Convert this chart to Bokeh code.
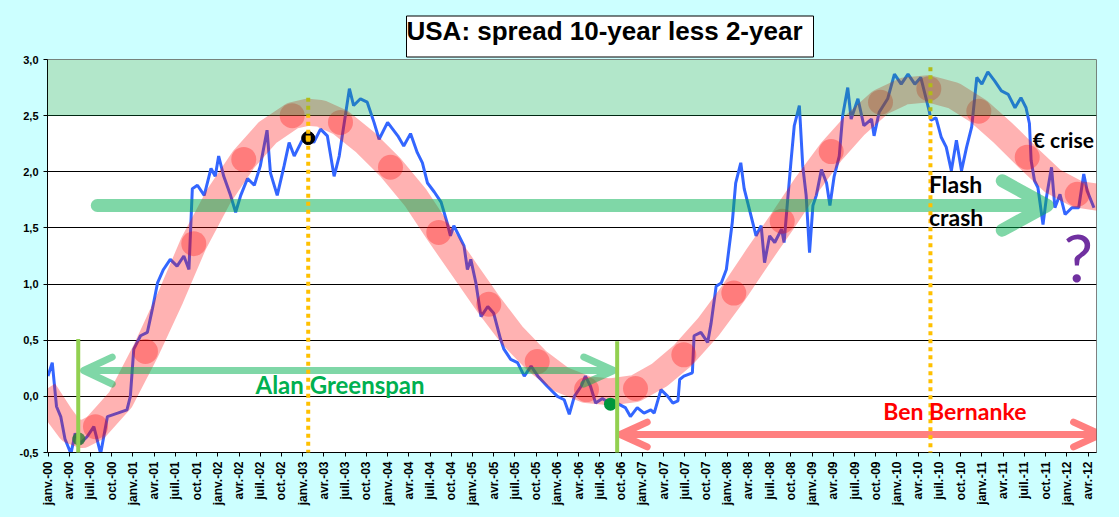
import math
from bokeh.plotting import figure
from bokeh.models import Range1d, FixedTicker, Label, BoxAnnotation, Arrow, Title
from bokeh.embed import file_html
from bokeh.resources import INLINE

# ---------------- data (decimal years) ----------------
spread_t = [2000.00, 2000.05, 2000.10, 2000.15, 2000.20, 2000.27, 2000.32, 2000.38, 2000.46, 2000.54,
            2000.62, 2000.70, 2000.82, 2000.93, 2000.97, 2001.01, 2001.09, 2001.17, 2001.23, 2001.29,
            2001.36, 2001.44, 2001.52, 2001.60, 2001.66, 2001.70, 2001.76, 2001.84, 2001.92, 2001.97,
            2002.01, 2002.07, 2002.15, 2002.21, 2002.27, 2002.35, 2002.43, 2002.50, 2002.58, 2002.62,
            2002.70, 2002.78, 2002.84, 2002.90, 2002.98, 2003.05, 2003.13, 2003.21, 2003.29, 2003.37,
            2003.43, 2003.49, 2003.55, 2003.60, 2003.68, 2003.76, 2003.84, 2003.90, 2004.00, 2004.12,
            2004.19, 2004.27, 2004.35, 2004.41, 2004.47, 2004.55, 2004.63, 2004.70, 2004.74, 2004.78,
            2004.84, 2004.90, 2004.94, 2004.98, 2005.04, 2005.10, 2005.18, 2005.25, 2005.33, 2005.37,
            2005.45, 2005.53, 2005.61, 2005.69, 2005.77, 2005.88, 2006.00, 2006.08, 2006.14, 2006.20,
            2006.28, 2006.33, 2006.39, 2006.45, 2006.53, 2006.61, 2006.70, 2006.80, 2006.86, 2006.94,
            2007.02, 2007.10, 2007.14, 2007.22, 2007.30, 2007.36, 2007.42, 2007.44, 2007.49, 2007.59,
            2007.61, 2007.69, 2007.77, 2007.81, 2007.87, 2007.93, 2007.99, 2008.02, 2008.06, 2008.10,
            2008.16, 2008.20, 2008.24, 2008.30, 2008.34, 2008.40, 2008.44, 2008.50, 2008.56, 2008.64,
            2008.67, 2008.71, 2008.75, 2008.79, 2008.85, 2008.89, 2008.93, 2008.97, 2009.01, 2009.05,
            2009.11, 2009.17, 2009.21, 2009.26, 2009.32, 2009.36, 2009.42, 2009.46, 2009.54, 2009.61,
            2009.70, 2009.73, 2009.79, 2009.89, 2009.97, 2010.05, 2010.13, 2010.21, 2010.28, 2010.34,
            2010.38, 2010.40, 2010.46, 2010.52, 2010.58, 2010.64, 2010.70, 2010.76, 2010.82, 2010.88,
            2010.94, 2011.00, 2011.07, 2011.15, 2011.23, 2011.31, 2011.39, 2011.46, 2011.52, 2011.56,
            2011.58, 2011.62, 2011.66, 2011.72, 2011.76, 2011.82, 2011.86, 2011.92, 2011.98, 2012.06,
            2012.14, 2012.20, 2012.24, 2012.32]
spread_v = [0.18, 0.30, -0.09, -0.18, -0.38, -0.51, -0.33, -0.42, -0.36, -0.27,
            -0.51, -0.18, -0.15, -0.12, 0.00, 0.42, 0.54, 0.57, 0.78, 1.01,
            1.13, 1.22, 1.16, 1.25, 1.13, 1.85, 1.88, 1.79, 2.03, 1.96,
            2.14, 1.96, 1.79, 1.64, 1.79, 1.94, 1.88, 2.05, 2.37, 1.99,
            1.79, 2.05, 2.26, 2.14, 2.26, 2.35, 2.26, 2.38, 2.32, 1.96,
            2.14, 2.44, 2.74, 2.59, 2.65, 2.62, 2.44, 2.29, 2.44, 2.32,
            2.23, 2.34, 2.17, 2.08, 1.90, 1.82, 1.73, 1.55, 1.43, 1.52,
            1.43, 1.34, 1.13, 1.22, 1.01, 0.71, 0.80, 0.74, 0.51, 0.42,
            0.33, 0.30, 0.18, 0.27, 0.18, 0.09, 0.00, -0.03, -0.16, 0.00,
            0.09, 0.18, 0.09, -0.06, -0.02, -0.06, -0.06, -0.10, -0.18, -0.10,
            -0.15, -0.12, -0.15, 0.06, 0.00, -0.06, -0.04, 0.15, 0.18, 0.21,
            0.54, 0.57, 0.48, 0.65, 0.98, 1.01, 1.13, 1.31, 1.55, 1.90,
            2.08, 1.85, 1.73, 1.55, 1.43, 1.52, 1.19, 1.43, 1.37, 1.49,
            1.37, 1.73, 2.08, 2.41, 2.59, 2.05, 1.79, 1.28, 1.70, 1.79,
            2.02, 1.90, 1.70, 1.96, 2.14, 2.50, 2.75, 2.47, 2.65, 2.41,
            2.47, 2.32, 2.53, 2.65, 2.87, 2.78, 2.87, 2.78, 2.84, 2.66,
            2.54, 2.46, 2.48, 2.31, 2.22, 2.01, 2.28, 2.01, 2.22, 2.40,
            2.84, 2.78, 2.89, 2.81, 2.72, 2.69, 2.57, 2.66, 2.57, 2.43,
            2.10, 1.92, 1.86, 1.53, 1.77, 2.04, 1.68, 1.80, 1.62, 1.68,
            1.68, 1.98, 1.83, 1.68]

cycle_t = [1999.95, 2000.147, 2000.265, 2000.406, 2000.559, 2000.854, 2001.148, 2001.443, 2001.714,
           2002.009, 2002.303, 2002.586, 2002.880, 2003.057, 2003.210, 2003.445, 2003.740, 2004.034,
           2004.329, 2004.600, 2004.894, 2005.189, 2005.471, 2005.766, 2006.048, 2006.343, 2006.625,
           2006.920, 2007.203, 2007.485, 2007.780, 2008.074, 2008.357, 2008.651, 2008.934, 2009.228,
           2009.511, 2009.806, 2010.088, 2010.371, 2010.665, 2010.960, 2011.243, 2011.537, 2011.831,
           2012.126, 2012.40]
cycle_v = [0.05, -0.18, -0.30, -0.34, -0.28, -0.03, 0.40, 0.88, 1.36,
           1.78, 2.11, 2.35, 2.50, 2.53, 2.52, 2.44, 2.26, 2.04,
           1.77, 1.46, 1.14, 0.82, 0.54, 0.31, 0.15, 0.06, 0.04,
           0.07, 0.19, 0.37, 0.62, 0.92, 1.24, 1.56, 1.88, 2.18,
           2.42, 2.62, 2.72, 2.74, 2.68, 2.54, 2.35, 2.13, 1.92,
           1.80, 1.77]

dot_t = [2000.559, 2001.148, 2001.717, 2002.306, 2002.876, 2003.445, 2004.034, 2004.603, 2005.192,
         2005.762, 2006.343, 2006.920, 2007.489, 2008.078, 2008.648, 2009.225, 2009.806, 2010.375,
         2010.964, 2011.534, 2012.123]
dot_v = [-0.27, 0.40, 1.36, 2.11, 2.50, 2.44, 2.04, 1.46, 0.82,
         0.31, 0.06, 0.07, 0.37, 0.92, 1.56, 2.18, 2.62, 2.74,
         2.54, 2.13, 1.80]

quarter_names = ["janv.", "avr.", "juil.", "oct."]
years = list(range(2000, 2013))
y_ticks = [-0.5, 0.0, 0.5, 1.0, 1.5, 2.0, 2.5, 3.0]
y_tick_labels = ["-0,5", "0,0", "0,5", "1,0", "1,5", "2,0", "2,5", "3,0"]

x_ticks, x_tick_labels = [], []
for yr in years:
    for q, name in enumerate(quarter_names):
        t = yr + q * 0.25
        if t <= 2012.3:
            x_ticks.append(t)
            x_tick_labels.append(f"{name}-{yr % 100:02d}")

# ---------------- figure ----------------
p = figure(width=1119, height=517, output_backend="svg", toolbar_location=None,
           x_range=Range1d(1999.994, 2012.35), y_range=Range1d(-0.5, 3.0),
           min_border_left=47, min_border_right=23, min_border_top=59, min_border_bottom=65)
p.border_fill_color = "#ccffff"
p.background_fill_color = "white"
p.outline_line_color = "#808080"
p.xgrid.visible = False
p.ygrid.ticker = FixedTicker(ticks=[0.0, 0.5, 1.0, 1.5, 2.0, 2.5])
p.ygrid.grid_line_color = "black"
p.ygrid.grid_line_width = 1

p.yaxis.ticker = FixedTicker(ticks=y_ticks)
p.yaxis.major_label_overrides = {v: s for v, s in zip(y_ticks, y_tick_labels)}
p.xaxis.ticker = FixedTicker(ticks=x_ticks)
p.xaxis.major_label_overrides = {v: s for v, s in zip(x_ticks, x_tick_labels)}
p.xaxis.major_label_orientation = math.pi / 2
for ax in (p.xaxis, p.yaxis):
    ax.axis_line_color = "black"
    ax.axis_line_width = 1
    ax.major_tick_out = 4
    ax.major_tick_in = 0
    ax.minor_tick_out = 0
    ax.minor_tick_in = 0
    ax.major_tick_line_color = "black"
    ax.major_label_standoff = 5
    ax.major_label_text_font = "Liberation Sans"
    ax.major_label_text_font_style = "bold"
    ax.major_label_text_color = "black"
p.yaxis.major_label_text_font_size = "11px"
p.xaxis.major_label_text_font_size = "12px"

# title box
p.add_layout(Title(text="USA: spread 10-year less 2-year", align="left", offset=359,
                   vertical_align="bottom", standoff=5, text_font="Liberation Sans",
                   text_font_size="26px", text_font_style="bold", text_color="black",
                   background_fill_color="white", border_line_color="black",
                   border_line_width=1, padding=(0, 11, 0, 11)), "above")

# blue series
p.line(spread_t, spread_v, line_color="#3366ff", line_width=3)

# pink cycle band and dots
p.line(cycle_t, cycle_v, line_color="red", line_alpha=0.3, line_width=27,
       line_join="round", line_cap="butt")
p.scatter(dot_t, dot_v, size=25, fill_color="red", fill_alpha=0.3, line_color=None)

# big green arrow (single path)
p.line([2000.58, 2011.77, 2011.24, 2011.77, 2011.24], [1.70, 1.70, 1.92, 1.70, 1.48],
       line_color="#00B050", line_alpha=0.5, line_width=13, line_join="round", line_cap="round")

# Greenspan double arrow
p.line([2000.756, 2000.42, 2000.756, 2000.42, 2006.664, 2006.311, 2006.664, 2006.311],
       [0.35, 0.23, 0.11, 0.23, 0.23, 0.35, 0.23, 0.11],
       line_color="#00B050", line_alpha=0.5, line_width=7, line_join="round", line_cap="round")

# Bernanke double arrow
p.line([2007.058, 2006.74, 2007.058, 2006.74, 2012.397, 2012.08, 2012.397, 2012.08],
       [-0.23, -0.34, -0.45, -0.34, -0.34, -0.23, -0.34, -0.45],
       line_color="red", line_alpha=0.5, line_width=7, line_join="round", line_cap="round")

# orange dotted lines (under green band)
for xt, ytop, ybot in [(2003.065, 2.66, -0.57), (2010.394, 2.93, -0.53)]:
    p.add_layout(Arrow(end=None, x_start=xt, y_start=ytop, x_end=xt, y_end=ybot,
                       line_color="#FFC000", line_width=4, line_dash="4 4"))

# green band on top
p.add_layout(BoxAnnotation(bottom=2.5, top=3.0, fill_color="#00B050", fill_alpha=0.3,
                           line_color=None))

# vertical green lines
for xt, ytop in [(2000.356, 0.51), (2006.704, 0.49)]:
    p.add_layout(Arrow(end=None, x_start=xt, y_start=ytop, x_end=xt, y_end=-0.6,
                       line_color="#92D050", line_width=4))

# markers
p.scatter([2003.065], [2.30], size=13, fill_color="black", line_color="black")
p.scatter([2003.065], [2.30], marker="square", size=5, fill_color="#FFC000", line_color=None)
p.scatter([2000.363], [-0.38], size=13, fill_color="#2e7d32", fill_alpha=0.8, line_color=None)
p.scatter([2006.625], [-0.07], size=13, fill_color="#00963c", line_color=None)

# texts
def lab(x, y, text, color="black", size="23px", style="bold", align="left", font="Lato"):
    p.add_layout(Label(x=x, y=y, text=text, text_color=color, text_font=font,
                       text_font_size=size, text_font_style=style, text_align=align,
                       text_baseline="alphabetic"))

lab(2002.444, 0.109, "Alan Greenspan", color="#00B050", size="24px")
lab(2009.837, -0.128, "Ben Bernanke", color="#ff0000")
lab(2011.60, 2.285, "€ crise", size="21px")
lab(2010.377, 1.89, "Flash")
lab(2010.377, 1.598, "crash")
lab(2012.134, 1.242, "?", color="#7030A0", size="66px", style="normal", align="center")

html = file_html(p, INLINE)
html = html.replace("<head>", "<head><style>body{background:#ccffff;}</style>", 1)
open("out.html", "w").write(html)
